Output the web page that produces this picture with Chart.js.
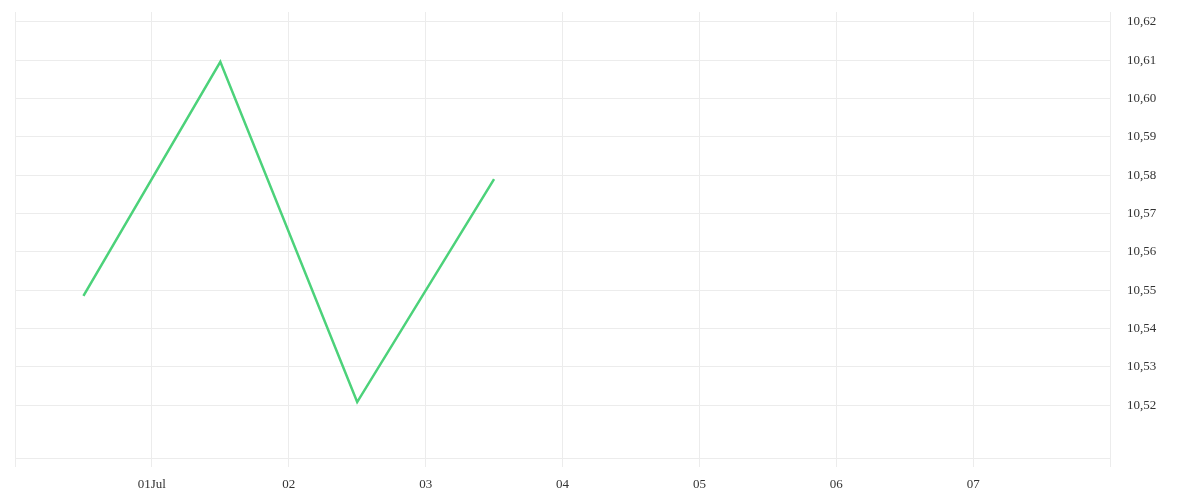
<!DOCTYPE html>
<html>
<head>
<meta charset="utf-8">
<script src="https://cdn.jsdelivr.net/npm/chart.js@4"></script>
<style>
  html, body { margin: 0; padding: 0; background: #fff; }
  #wrap { width: 1200px; height: 500px; }
</style>
</head>
<body>
<div id="wrap"><canvas id="myChart"></canvas></div>
<script>
// dados
const dias = ['30 Jun', '01 Jul', '02 Jul', '03 Jul'];
const valores = [10.5485, 10.6096, 10.5208, 10.579];
const rotulosX = ['', '01Jul', '02', '03', '04', '05', '06', '07', ''];
const ticksY = [10.52, 10.53, 10.54, 10.55, 10.56, 10.57, 10.58, 10.59, 10.60, 10.61, 10.62];

const cinza = '#ececec';
const fonte = { family: '"Liberation Serif", "DejaVu Serif", serif', size: 13 };

// cada ponto no meio do dia
const pontos = valores.map(function (v, i) { return { x: i + 0.5, y: v }; });

const ctx = document.getElementById('myChart');
const myChart = new Chart(ctx, {
  type: 'line',
  data: {
    datasets: [{
      label: 'Cotação',
      data: pontos,
      borderColor: '#4cd27a',
      borderWidth: 2.5,
      pointRadius: 0,
      fill: false,
      tension: 0
    }]
  },
  options: {
    responsive: true,
    maintainAspectRatio: false,
    animation: false,
    layout: { padding: { left: 15, top: 12, right: 0, bottom: 0 } },
    plugins: { legend: { display: false }, tooltip: { enabled: false } },
    scales: {
      x: {
        type: 'linear',
        min: 0,
        max: rotulosX.length - 1,
        afterBuildTicks: function (scale) {
          scale.ticks = rotulosX.map(function (r, i) { return { value: i }; });
        },
        afterFit: function (scale) {
          scale.height = 42;
          scale.paddingLeft = 0;
          scale.paddingRight = 0;
        },
        ticks: {
          autoSkip: false,
          maxRotation: 0,
          padding: 10,
          color: '#333',
          font: fonte,
          callback: function (v) { return rotulosX[v]; }
        },
        grid: { color: cinza, drawTicks: true, tickLength: 9, tickColor: cinza },
        border: { display: true, color: cinza }
      },
      y: {
        position: 'right',
        min: 10.5062,
        max: 10.6226,
        afterBuildTicks: function (scale) {
          scale.ticks = ticksY.map(function (v) { return { value: v }; });
        },
        afterFit: function (scale) {
          scale.width = 90;
          scale.paddingTop = 0;
          scale.paddingBottom = 0;
        },
        ticks: {
          padding: 17,
          color: '#333',
          font: fonte,
          callback: function (v) { return v.toFixed(2).replace('.', ','); }
        },
        grid: { color: cinza, drawTicks: false },
        border: { display: false }
      }
    }
  }
});
</script>
</body>
</html>
